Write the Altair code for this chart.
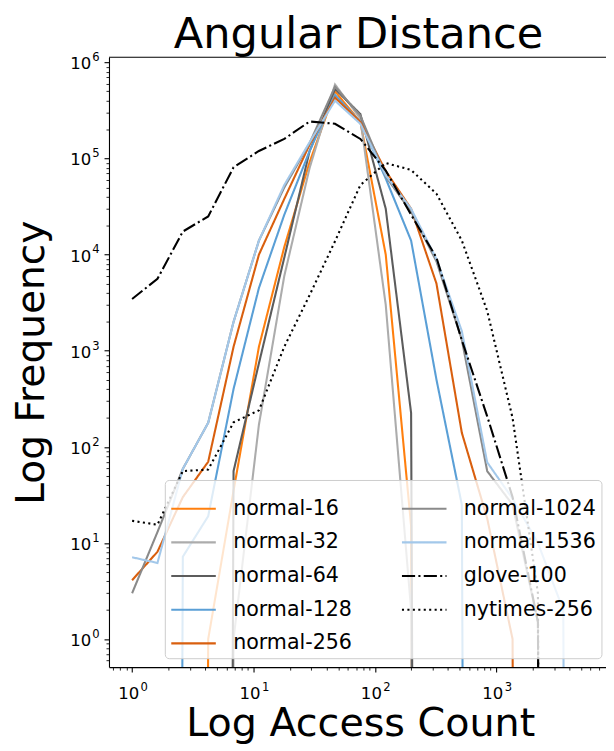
import altair as alt
import pandas as pd

# ---------------- data ----------------
access_count = [1, 1.618, 2.618, 4.236, 6.854, 11.09, 17.94, 29.03, 46.98, 76.01,
                123.0, 199.0, 322.0, 521.0, 843.0, 1364, 2207, 3571, 5778]

normal_16 = [0, 0, 0, 1, 35, 1100, 12000, 92000, 500000, 240000, 10000, 15, 0, 0, 0, 0, 0, 0, 0]
normal_32 = [0, 0, 0, 0, 1, 170, 6000, 80000, 590000, 260000, 3000, 2, 0, 0, 0, 0, 0, 0, 0]
normal_64 = [0, 0, 0, 0, 56, 740, 9300, 120000, 530000, 290000, 30000, 225, 0, 0, 0, 0, 0, 0, 0]
normal_128 = [0, 0, 7.2, 19, 400, 4500, 26000, 120000, 460000, 240000, 62000, 14000, 500, 25, 0, 0, 0, 0, 0]
normal_256 = [4.1, 8.1, 30, 70, 1100, 10000, 38000, 140000, 430000, 240000, 74000, 30000, 5000, 140, 18, 1, 0, 0, 0]
normal_1024 = [3, 13, 59, 178, 2000, 14000, 50000, 145000, 560000, 280000, 65000, 28000, 8500, 1300, 56, 25, 1.5, 0, 0]
normal_1536 = [7.1, 6.2, 59, 178, 2000, 14000, 53000, 148000, 400000, 230000, 67000, 30000, 9000, 1600, 69, 29, 10, 2, 0]
glove_100 = [3460, 5600, 17400, 25000, 81000, 120000, 160000, 243000, 230000, 160000, 75000, 26000, 9300, 1290, 208, 30, 1.5, 0, 0]
nytimes_256 = [17, 15.5, 56, 58, 180, 240, 1100, 3800, 13800, 53000, 90000, 76000, 43000, 14000, 2600, 200, 3, 0, 0]

series_names = ["normal-16", "normal-32", "normal-64", "normal-128", "normal-256",
                "normal-1024", "normal-1536", "glove-100", "nytimes-256"]
series_values = [normal_16, normal_32, normal_64, normal_128, normal_256,
                 normal_1024, normal_1536, glove_100, nytimes_256]

series_colors = ["#ff7f0e", "#acacac", "#5c5c5c", "#5a9fd6", "#d95f0e",
                 "#8a8a8a", "#a3c8ea", "#000000", "#000000"]
series_dash = [[1, 0], [1, 0], [1, 0], [1, 0], [1, 0], [1, 0], [1, 0],
               [13.3, 3.3, 2.1, 3.3], [2.1, 3.4]]

title_text = "Angular Distance"
x_title = "Log Access Count"
y_title = "Log Frequency"

x_ticks = [round(m * 10 ** e, 6) for e in range(-1, 4) for m in range(1, 10)]
x_ticks = [v for v in x_ticks if 0.65 <= v <= 8000]
y_ticks = [round(m * 10 ** e, 6) for e in range(-1, 7) for m in range(1, 10)]
y_ticks = [v for v in y_ticks if 0.52 <= v <= 1.1e6]

rows = []
for name, vals in zip(series_names, series_values):
    for xv, yv in zip(access_count, vals):
        rows.append({"x": xv, "y": yv, "series": name})
df = pd.DataFrame(rows)

FONT = "DejaVu Sans"
W, H = 502, 616
X_DOMAIN = [0.645, 8029]
Y_DOMAIN = [0.511, 1.133e6]


def base_expr(max_e):
    return " || ".join(f"datum.value == {10 ** e}" for e in range(0, max_e + 1))


def exp_label_expr(max_e):
    parts = [f"datum.value == {10 ** e} ? '{e}'" for e in range(0, max_e + 1)]
    return " : ".join(parts) + " : ''"


def ten_label_expr(max_e):
    return f"({base_expr(max_e)}) ? '10' : ''"


# main axes: ticks, domain, "10" part of the labels, titles
x_axis = alt.Axis(
    values=x_ticks, labelExpr=ten_label_expr(3), grid=False, orient="bottom",
    tickSize={"condition": {"test": base_expr(3), "value": 5}, "value": 3},
    tickWidth={"condition": {"test": base_expr(3), "value": 1.1}, "value": 0.85},
    tickColor="black", domainColor="black", domainWidth=1.1,
    labelFont=FONT, labelFontSize=16.7, labelColor="black", labelPadding=14,
    labelBaseline="top", labelOffset=-4, labelOverlap=False, labelFlush=False,
    title=x_title, titleFont=FONT, titleFontSize=40, titleFontWeight="normal",
    titleColor="black", titleX=253.7, titleY=69, titleAlign="center",
    titleBaseline="alphabetic", titleAngle=0,
)
y_axis = alt.Axis(
    values=y_ticks, labelExpr=ten_label_expr(6), grid=False, orient="left",
    tickSize={"condition": {"test": base_expr(6), "value": 5}, "value": 3},
    tickWidth={"condition": {"test": base_expr(6), "value": 1.1}, "value": 0.85},
    tickColor="black", domainColor="black", domainWidth=1.1,
    labelFont=FONT, labelFontSize=16.7, labelColor="black", labelPadding=13.5,
    labelAlign="right", labelBaseline="middle", labelOffset=1.5,
    labelOverlap=False, labelFlush=False,
    title=y_title, titleFont=FONT, titleFontSize=39.5, titleFontWeight="normal",
    titleColor="black", titleX=-66, titleY=H / 2, titleAlign="center",
    titleBaseline="alphabetic", titleAngle=270,
)

# second pair of axes: only the exponents (superscripts)
x_exp_axis = alt.Axis(
    values=x_ticks, labelExpr=exp_label_expr(3), grid=False, orient="bottom",
    ticks=False, tickSize=0, domain=False,
    labelFont=FONT, labelFontSize=11.7, labelColor="black", labelPadding=14.3,
    labelBaseline="top", labelOffset=11.8, labelOverlap=False, labelFlush=False,
    title=None,
)
y_exp_axis = alt.Axis(
    values=y_ticks, labelExpr=exp_label_expr(6), grid=False, orient="left",
    ticks=False, tickSize=0, domain=False,
    labelFont=FONT, labelFontSize=11.7, labelColor="black", labelPadding=10,
    labelAlign="right", labelBaseline="middle", labelOffset=-5.7,
    labelOverlap=False, labelFlush=False, title=None,
)

legend = alt.Legend(
    orient="none", legendX=56.4, legendY=427, columns=2, title=None,
    symbolType="stroke", symbolSize=2025, symbolStrokeWidth=2.1,
    labelFont=FONT, labelFontSize=20.8, labelColor="black", labelOffset=16,
    columnPadding=45, rowPadding=0, padding=5, labelLimit=0,
    fillColor="rgba(255,255,255,0.8)", strokeColor="#cccccc", cornerRadius=4,
)

x_scale = alt.Scale(type="log", domain=X_DOMAIN, nice=False)
y_scale = alt.Scale(type="log", domain=Y_DOMAIN, nice=False)

base = alt.Chart(df).transform_calculate(
    y_plot="datum.y > 0 ? datum.y : 1e-60"
)

lines = base.mark_line(clip=True, strokeWidth=2.1).encode(
    x=alt.X("x:Q", scale=x_scale, axis=x_axis),
    y=alt.Y("y_plot:Q", scale=y_scale, axis=y_axis),
    color=alt.Color("series:N", sort=series_names,
                    scale=alt.Scale(domain=series_names, range=series_colors),
                    legend=legend),
    strokeDash=alt.StrokeDash("series:N", sort=series_names,
                              scale=alt.Scale(domain=series_names, range=series_dash),
                              legend=legend),
)

exp_axes = base.mark_line(clip=True, strokeOpacity=0).encode(
    x=alt.X("x:Q", scale=x_scale, axis=x_exp_axis),
    y=alt.Y("y_plot:Q", scale=y_scale, axis=y_exp_axis),
    detail="series:N",
)

top_spine = alt.Chart(pd.DataFrame({"t": [0]})).mark_rule(color="black", strokeWidth=1.1).encode(
    x=alt.value(0), x2=alt.value(W), y=alt.value(0)
)

title_mark = alt.Chart(pd.DataFrame({"t": [title_text]})).mark_text(
    font=FONT, fontSize=43.5, align="center", baseline="alphabetic", color="black"
).encode(x=alt.value(W / 2 + 1), y=alt.value(-9), text="t:N")

chart = alt.layer(lines, exp_axes, top_spine, title_mark).resolve_scale(
    x="independent", y="independent"
).resolve_axis(
    x="independent", y="independent"
).properties(
    width=W, height=H,
    autosize=alt.AutoSizeParams(type="none"),
    padding={"left": 102, "top": 46, "right": 0, "bottom": 80},
).configure_view(stroke="transparent")

chart.save("out.html", embed_options={"renderer": "svg", "actions": False})
